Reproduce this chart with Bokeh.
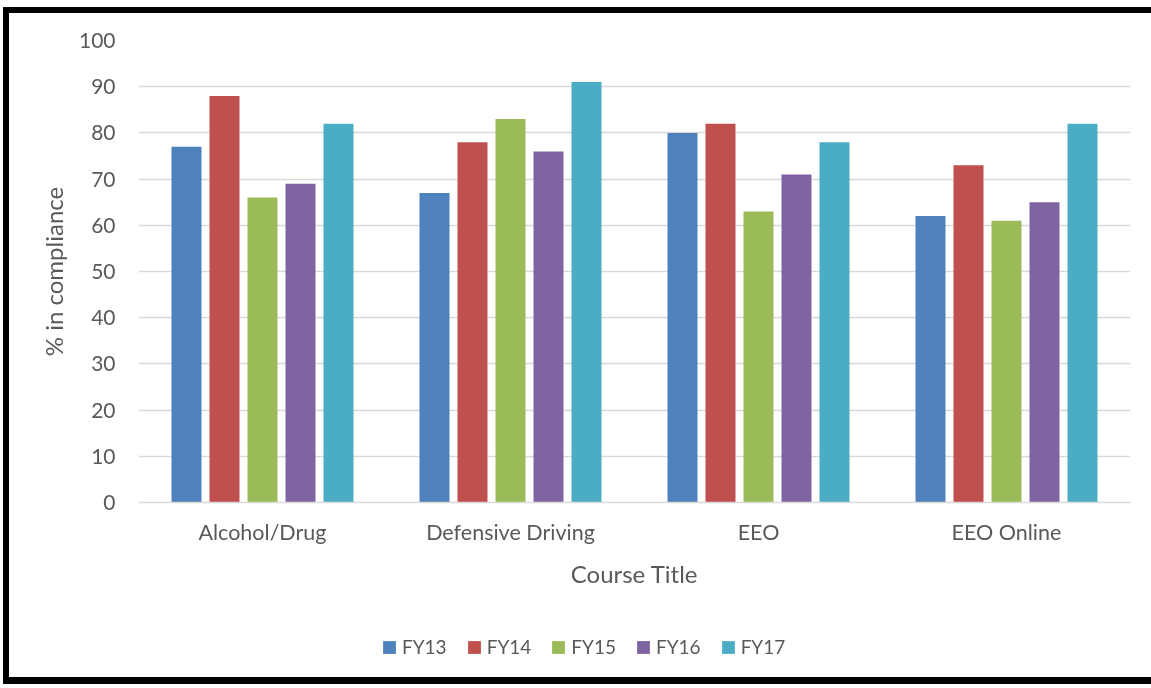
from bokeh.plotting import figure
from bokeh.layouts import column
from bokeh.models import Range1d, FixedTicker, Legend, LegendItem
from bokeh.transform import dodge
from bokeh.embed import file_html
from bokeh.resources import INLINE

# Course compliance by fiscal year
courses = ["Alcohol/Drug", "Defensive Driving", "EEO", "EEO Online"]
years = ["FY13", "FY14", "FY15", "FY16", "FY17"]
fy13 = [77, 67, 80, 62]
fy14 = [88, 78, 82, 73]
fy15 = [66, 83, 63, 61]
fy16 = [69, 76, 71, 65]
fy17 = [82, 91, 78, 82]
y_ticks = [0, 10, 20, 30, 40, 50, 60, 70, 80, 90, 100]

series = [fy13, fy14, fy15, fy16, fy17]
colors = ["#4F81BD", "#C0504D", "#9BBB59", "#8064A2", "#4BACC6"]
text_color = "#595959"
grid_color = "#D9D9D9"
font = "Lato"
W = 1142

p = figure(
    x_range=courses,
    y_range=Range1d(0, 100),
    width=W,
    height=600,
    output_backend="svg",
    toolbar_location=None,
    min_border_left=129,
    min_border_right=W - 1121,
    min_border_top=27,
    min_border_bottom=111,
)
p.outline_line_color = None
p.background_fill_color = "white"
p.border_fill_color = "white"

data = {"course": courses}
for name, vals in zip(years, series):
    data[name] = vals

step = 38 / 248
bar_w = 30 / 248
for i, (name, color) in enumerate(zip(years, colors)):
    p.vbar(
        x=dodge("course", (i - 2) * step, range=p.x_range),
        top=name,
        width=bar_w,
        source=data,
        fill_color=color,
        line_color=None,
    )

# Axes
p.yaxis.ticker = FixedTicker(ticks=y_ticks)
p.yaxis.axis_line_color = None
p.yaxis.major_tick_line_color = None
p.yaxis.minor_tick_line_color = None
p.yaxis.major_label_standoff = 17
p.yaxis.major_label_text_font = font
p.yaxis.major_label_text_font_size = "21px"
p.yaxis.major_label_text_color = text_color
p.yaxis.axis_label = "% in compliance"
p.yaxis.axis_label_text_font = font
p.yaxis.axis_label_text_font_size = "24px"
p.yaxis.axis_label_text_font_style = "normal"
p.yaxis.axis_label_text_color = text_color
p.yaxis.axis_label_standoff = 8

p.xaxis.axis_line_color = grid_color
p.xaxis.axis_line_width = 1.5
p.xaxis.major_tick_line_color = None
p.xaxis.minor_tick_line_color = None
p.xaxis.major_label_standoff = 10
p.xaxis.major_label_text_font = font
p.xaxis.major_label_text_font_size = "21.5px"
p.xaxis.major_label_text_color = text_color
p.xaxis.axis_label = "Course Title"
p.xaxis.axis_label_text_font = font
p.xaxis.axis_label_text_font_size = "24px"
p.xaxis.axis_label_text_font_style = "normal"
p.xaxis.axis_label_text_color = text_color
p.xaxis.axis_label_standoff = 11

p.xgrid.grid_line_color = None
p.ygrid.grid_line_color = grid_color
p.ygrid.grid_line_width = 1.5

# Legend strip beneath the chart
lg = figure(
    width=W,
    height=64,
    x_range=Range1d(0, 1),
    y_range=Range1d(1, 2),
    output_backend="svg",
    toolbar_location=None,
    x_axis_type=None,
    y_axis_type=None,
    min_border=0,
)
lg.outline_line_color = None
lg.xgrid.grid_line_color = None
lg.ygrid.grid_line_color = None
lg.border_fill_color = "white"
lg.background_fill_color = "white"

items = []
for name, color in zip(years, colors):
    # zero-height swatch source, kept outside the visible range
    r = lg.vbar(x=[0.5], top=[0], width=0.1, fill_color=color, line_color=None)
    items.append(LegendItem(label=name, renderers=[r]))

legend = Legend(
    items=items,
    orientation="horizontal",
    location=(243, 19),
    glyph_width=16,
    glyph_height=16,
    label_standoff=5,
    spacing=19,
    padding=0,
    margin=0,
    border_line_color=None,
    background_fill_alpha=0,
    label_text_font=font,
    label_text_font_size="19px",
    label_text_color=text_color,
)
lg.add_layout(legend, "center")

layout = column(p, lg, spacing=0)
# thick black frame on the left, top and bottom of the chart
layout.styles = {
    "position": "fixed",
    "left": "9px",
    "top": "13px",
    "overflow": "hidden",
    "box-shadow": (
        "-6px 0 0 0 black, 0 -6px 0 0 black, 0 7px 0 0 black, "
        "-6px -6px 0 0 black, -6px 7px 0 0 black"
    ),
}

open("out.html", "w").write(file_html(layout, INLINE))
